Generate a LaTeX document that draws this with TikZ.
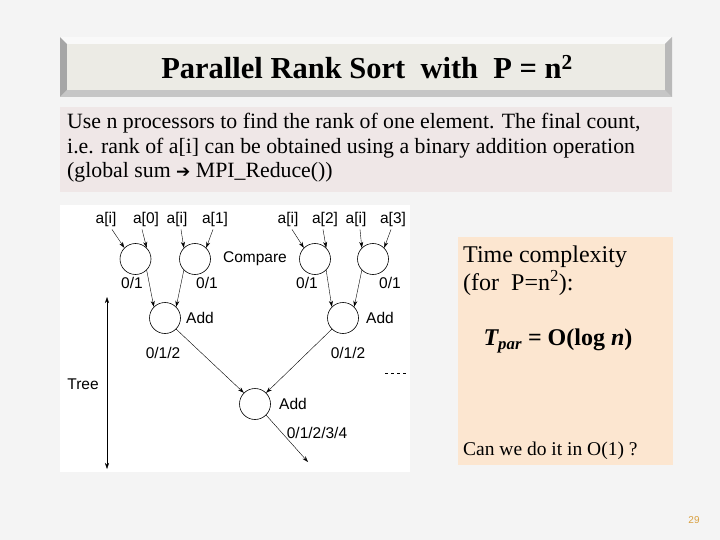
\documentclass[tikz,border=0pt]{standalone}
\usepackage{fontspec}
\setmainfont{Liberation Serif}
\newfontfamily\arial{Liberation Sans}
\newfontfamily\djvu{DejaVu Sans}
\usetikzlibrary{arrows.meta}
\definecolor{bg}{HTML}{F4F4F4}
\definecolor{titlebg}{HTML}{ECEBE5}
\definecolor{textbg}{HTML}{EFE7E7}
\definecolor{peach}{HTML}{FCE6D0}
\definecolor{pnum}{HTML}{D9A040}
\tikzset{
 proc/.style={circle,draw,semithick,minimum size=31pt,inner sep=0pt},
 lab/.style={font=\arial\fontsize{15.5}{17}\selectfont,inner sep=1pt},
 arr/.style={-{Stealth[length=6pt,width=4pt]},thin},
}
\begin{document}
\begin{tikzpicture}[x=1pt,y=-1pt]
\fill[bg] (0,0) rectangle (720,540);
\useasboundingbox (0,0) rectangle (720,540);
% title bevel box
\fill[gray!70] (60,37) rectangle (672,97);
\fill[white!95!gray] (60,37) -- (672,37) -- (665,44) -- (67,44) -- cycle;
\fill[gray!55] (665,44) -- (672,37) -- (672,97) -- (665,90) -- cycle;
\fill[gray!45] (67,90) -- (665,90) -- (672,97) -- (60,97) -- cycle;
\fill[titlebg] (67,44) rectangle (665,90);
\node[font=\bfseries\fontsize{30.5}{32}\selectfont] (title) at (367,67) {Parallel Rank Sort\ \ with\ \ P = n\textsuperscript{2}};
% text box
\fill[textbg] (60,107) rectangle (672,192);
\node[anchor=north west,align=left,font=\fontsize{21.8}{24.5}\selectfont,inner sep=0pt] (desc) at (67,113)
 {Use n processors to find the rank of one element. The final count,\\
  i.e. rank of a[i] can be obtained using a binary addition operation\\
  (global sum {\djvu\fontsize{17}{19}\selectfont ➔} MPI\_Reduce())};
% diagram area
\fill[white] (60,205) rectangle (410,472);
\foreach \n/\x/\y in {c1/135.5/259,c2/195/259,c3/315/259,c4/373/259,s1/165/318,s2/343/318,r/255/404}
  \node[proc] (\n) at (\x,\y) {};
\foreach \n/\x/\t in {l1/106/a[i],l2/146/a[0],l3/177/a[i],l4/215/a[1],l5/288/a[i],l6/325/a[2],l7/356/a[i],l8/393/a[3]}
  \node[lab] (\n) at (\x,219) {\t};
\draw[arr] (l1.south) ++(6,2) coordinate (p1) -- (c1.north west);
\draw[arr] (l2.south) ++(-4,2) coordinate (p2) -- (c1.north east);
\draw[arr] (l3.south) ++(4,2) coordinate (p3) -- (c2.north west);
\draw[arr] (l4.south) ++(-2,2) coordinate (p4) -- (c2.north east);
\draw[arr] (l5.south) ++(4,2) coordinate (p5) -- (c3.north west);
\draw[arr] (l6.south) ++(-2,2) coordinate (p6) -- (c3.north east);
\draw[arr] (l7.south) ++(4,2) coordinate (p7) -- (c4.north west);
\draw[arr] (l8.south) ++(-2,2) coordinate (p8) -- (c4.north east);
\node[lab] (cmp) at (255,259) {Compare};
\node[lab] at (132,283) {0/1};
\node[lab] at (207,283) {0/1};
\node[lab] at (307,283) {0/1};
\node[lab] at (390,283) {0/1};
\draw[arr] (c1.south east) -- (s1.north west);
\draw[arr] (c2.south west) -- (s1.north east);
\draw[arr] (c3.south east) -- (s2.north west);
\draw[arr] (c4.south west) -- (s2.north east);
\node[lab] at (200,318) {Add};
\node[lab] at (380,318) {Add};
\node[lab] at (163,353) {0/1/2};
\node[lab] at (348,353) {0/1/2};
\draw[arr] (s1.south east) -- (r.north west);
\draw[arr] (s2.south west) -- (r.north east);
\node[lab] at (293,404) {Add};
\node[lab] at (317,433) {0/1/2/3/4};
\coordinate (out) at (308,462);
\draw[arr] (r.south east) -- (out);
\coordinate (t1) at (107,297); \coordinate (t2) at (107,469);
\draw[{Stealth[length=6pt,width=4pt]}-{Stealth[length=6pt,width=4pt]},thin] (t1) -- (t2);
\node[lab] (tree) at (83,384) {Tree};
\draw[dashed,thin] (385,373) -- (409,373);
% right box
\fill[peach] (458,237) rectangle (673,465);
\node[anchor=north west,align=left,font=\fontsize{24}{28}\selectfont,inner sep=0pt] (tc) at (463,246)
 {Time complexity\\(for\ \ P=n\textsuperscript{2}):};
\node[font=\bfseries\fontsize{24}{26}\selectfont] (tp) at (558,341) {\textit{T\textsubscript{par}} = O(log \textit{n})};
\node[anchor=west,font=\fontsize{19.5}{21}\selectfont,inner sep=0pt] (q) at (463,451) {Can we do it in O(1) ?};
\node[text=pnum,font=\arial\fontsize{10}{12}\selectfont] (pg) at (694,520) {29};
\end{tikzpicture}
\end{document}
